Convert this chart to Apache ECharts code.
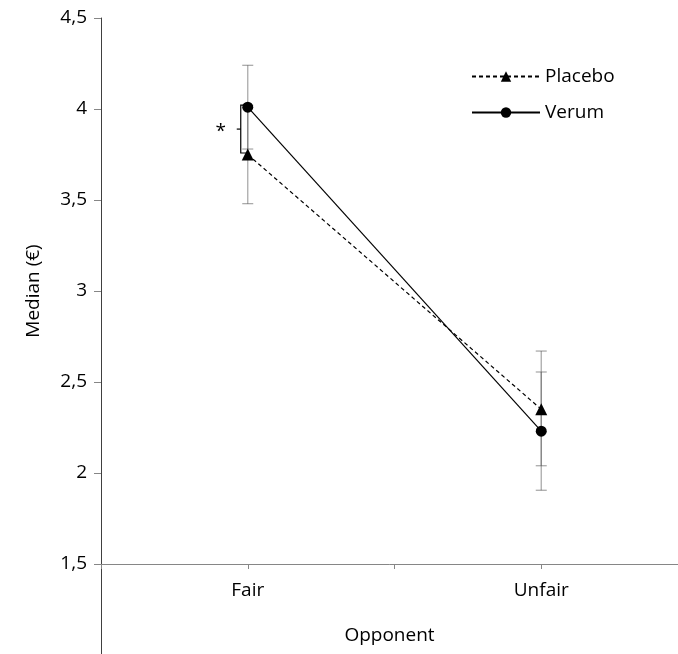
<!DOCTYPE html>
<html><head><meta charset="utf-8">
<script src="https://cdn.jsdelivr.net/npm/echarts@6/dist/echarts.min.js"></script>
<style>html,body{margin:0;padding:0;background:#fff}#c{width:678px;height:654px}</style>
</head><body><div id="c"></div>
<script>
const categories = ['Fair', 'Unfair'];
const catPos = [1, 3];
const placebo = [3.75, 2.35];
const verum = [4.01, 2.23];
const placeboLow = [3.48, 2.04];
const placeboHigh = [4.02, 2.67];
const verumLow = [3.78, 1.905];
const verumHigh = [4.24, 2.555];
const yTickLabels = ['1,5', '2', '2,5', '3', '3,5', '4', '4,5'];
const seriesNames = ['Placebo', 'Verum'];
const sigLabel = '*';

const FONT = 'Open Sans';
const FS = 19;

function errRender(params, api) {
  const x = api.value(0);
  const lo = api.coord([x, api.value(1)]);
  const hi = api.coord([x, api.value(2)]);
  const w = 5.5;
  const st = { stroke: 'rgba(87,87,87,0.5)', lineWidth: 1.3 };
  return {
    type: 'group',
    children: [
      { type: 'line', shape: { x1: lo[0], y1: lo[1], x2: hi[0], y2: hi[1] }, style: st },
      { type: 'line', shape: { x1: lo[0] - w, y1: lo[1], x2: lo[0] + w, y2: lo[1] }, style: st },
      { type: 'line', shape: { x1: hi[0] - w, y1: hi[1], x2: hi[0] + w, y2: hi[1] }, style: st }
    ]
  };
}

function sigRender(params, api) {
  const x = api.value(0);
  const pTop = api.coord([x, api.value(2)]);
  const pBot = api.coord([x, api.value(1)]);
  const bx = pTop[0] - 7;
  const top = pTop[1] - 2;
  const bot = pBot[1] - 1.5;
  const mid = (top + bot) / 2;
  const st = { stroke: '#000', lineWidth: 1.2, fill: null };
  return {
    type: 'group',
    children: [
      { type: 'polyline', shape: { points: [[pTop[0], top], [bx, top], [bx, bot], [pTop[0], bot]] }, style: st },
      { type: 'line', shape: { x1: bx - 4, y1: mid, x2: bx, y2: mid }, style: st },
      { type: 'text', style: { text: sigLabel, x: pTop[0] - 27, y: mid + 3, align: 'center', verticalAlign: 'middle', fontSize: FS, fontFamily: FONT, fill: '#000' } }
    ]
  };
}

const chart = echarts.init(document.getElementById('c'), null, { renderer: 'canvas' });
chart.setOption({
  animation: false,
  backgroundColor: '#fff',
  textStyle: { fontFamily: FONT },
  grid: [
    { left: 101, width: 587, top: 18, height: 546, containLabel: false, outerBoundsMode: 'none' },
    { left: 101, right: 0, top: 564, bottom: 0, containLabel: false, outerBoundsMode: 'none' }
  ],
  legend: {
    orient: 'vertical',
    left: 466,
    top: 62,
    itemWidth: 68,
    itemHeight: 13,
    itemGap: 17,
    data: seriesNames,
    textStyle: { fontSize: FS, fontFamily: FONT, color: '#000' }
  },
  xAxis: [
    {
      gridIndex: 0, type: 'value', min: 0, max: 4, interval: 1,
      axisLine: { onZero: false, lineStyle: { color: '#868686', width: 1 } },
      axisTick: { show: true, length: 5, lineStyle: { color: '#868686' } },
      axisLabel: {
        margin: 17, fontSize: FS, fontFamily: FONT, color: '#000',
        formatter: v => { const i = catPos.indexOf(v); return i >= 0 ? categories[i] : ''; }
      },
      splitLine: { show: false },
      name: 'Opponent', nameLocation: 'middle', nameGap: 62,
      nameTextStyle: { fontSize: FS, fontFamily: FONT, color: '#000', padding: [0, 10, 0, 0] }
    },
    { gridIndex: 1, type: 'value', show: false, min: 0, max: 1 }
  ],
  yAxis: [
    {
      gridIndex: 0, type: 'value', min: 1.5, max: 4.5, interval: 0.5,
      axisLine: { show: true, lineStyle: { color: '#404040', width: 1 } },
      axisTick: { show: true, length: 7, lineStyle: { color: '#868686' } },
      axisLabel: {
        margin: 14, fontSize: FS, fontFamily: FONT, color: '#000',
        formatter: v => yTickLabels[Math.round((v - 1.5) / 0.5)]
      },
      splitLine: { show: false },
      name: 'Median (€)', nameLocation: 'middle', nameGap: 58,
      nameTextStyle: { fontSize: FS, fontFamily: FONT, color: '#000' }
    },
    {
      gridIndex: 1, type: 'value', min: 0, max: 1,
      axisLine: { show: true, lineStyle: { color: '#404040', width: 1 } },
      axisTick: { show: false }, axisLabel: { show: false }, splitLine: { show: false }
    }
  ],
  series: [
    {
      type: 'custom', name: 'errPlacebo', xAxisIndex: 0, yAxisIndex: 0, z: 1,
      renderItem: errRender,
      data: catPos.map((x, i) => [x, placeboLow[i], placeboHigh[i]])
    },
    {
      type: 'custom', name: 'errVerum', xAxisIndex: 0, yAxisIndex: 0, z: 1,
      renderItem: errRender,
      data: catPos.map((x, i) => [x, verumLow[i], verumHigh[i]])
    },
    {
      type: 'line', name: seriesNames[0], xAxisIndex: 0, yAxisIndex: 0, z: 3,
      symbol: 'triangle', symbolSize: 12,
      lineStyle: { color: '#000', width: 1.2, type: [4, 3] },
      itemStyle: { color: '#000' },
      data: catPos.map((x, i) => [x, placebo[i]])
    },
    {
      type: 'line', name: seriesNames[1], xAxisIndex: 0, yAxisIndex: 0, z: 3,
      symbol: 'circle', symbolSize: 11,
      lineStyle: { color: '#000', width: 1.2 },
      itemStyle: { color: '#000' },
      data: catPos.map((x, i) => [x, verum[i]])
    },
    {
      type: 'custom', name: 'sig', xAxisIndex: 0, yAxisIndex: 0, z: 4,
      renderItem: sigRender,
      data: [[catPos[0], placebo[0], verum[0]]]
    }
  ]
});
</script></body></html>
